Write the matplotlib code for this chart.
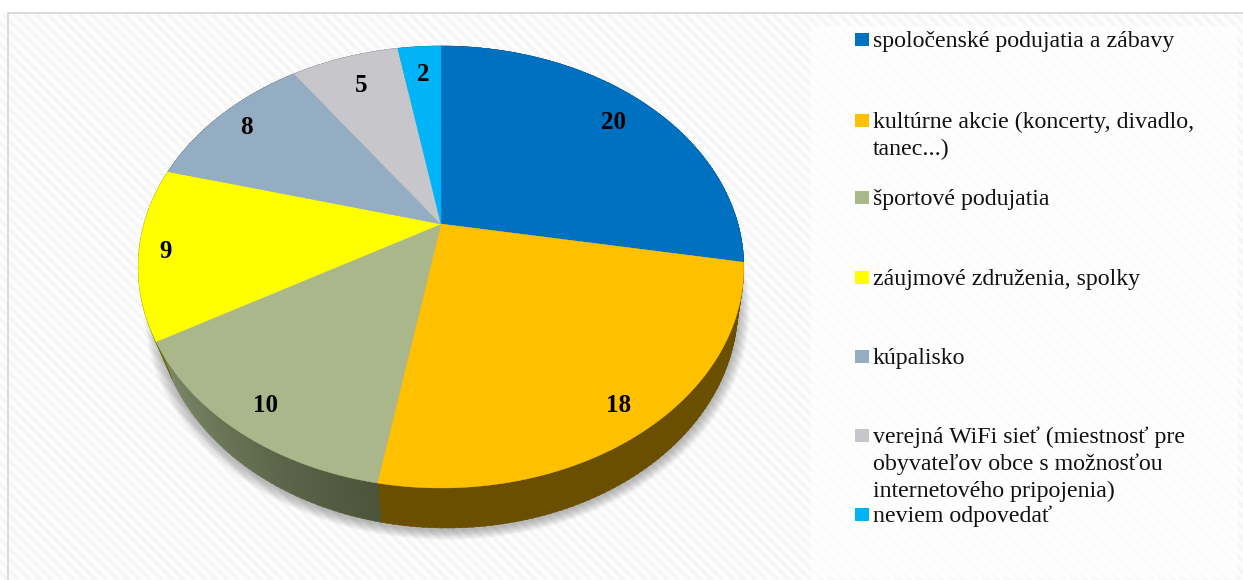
import numpy as np
import matplotlib
matplotlib.use("Agg")
import matplotlib.pyplot as plt
from matplotlib.collections import LineCollection
from matplotlib.patches import Rectangle

categories = ["spoločenské podujatia a zábavy",
              "kultúrne akcie (koncerty, divadlo,\ntanec...)",
              "športové podujatia",
              "záujmové združenia, spolky",
              "kúpalisko",
              "verejná WiFi sieť (miestnosť pre\nobyvateľov obce s možnosťou\ninternetového pripojenia)",
              "neviem odpovedať"]
values = [20, 18, 10, 9, 8, 5, 2]
colors = ["#0070c0", "#ffc000", "#a9b78b", "#ffff00", "#94adc3", "#c6c6cb", "#00b4f7"]
wall_near = ["#003a64", "#6b4f00", "#4b5339", "#6b6b00", "#4d5a66", "#66666a", "#005f80"]
wall_far = ["#003a64", "#6b4f00", "#7f8a6a", "#7f7f00", "#4d5a66", "#66666a", "#005f80"]
label_radius = [.83, .888, .888, .918, .881, .819, .827]
legend_y = [39, 120, 197, 277, 356, 435, 514]

W, H = 1243, 580
CX, CY = 441, 224
AY, BX, K = 212.6, 297.0, 0.1946
DEPTH, LOW_SCALE, LOW_DX, LOW_TWIST = 40, 0.96, 6, 0.7
plt.rcParams["font.family"] = ["Liberation Serif", "DejaVu Serif"]

fig = plt.figure(figsize=(W / 100, H / 100), dpi=100)
ax = fig.add_axes([0, 0, 1, 1])
ax.set_xlim(0, W)
ax.set_ylim(H, 0)
ax.axis("off")


def project(theta_deg, r=1.0, scale=1.0, dx=0.0, dy=0.0):
    t = np.radians(theta_deg)
    x, y = r * np.sin(t), r * np.cos(t)
    w = 1 + K * y
    return CX + scale * BX * x / w + dx, CY - AY * y / w + dy


def hex2rgb(c):
    return np.array(matplotlib.colors.to_rgb(c))


# backdrop: frame and diagonal stripes
ax.add_patch(Rectangle((0, 0), W, H, fc="white", ec="none", zorder=0))
ax.add_patch(Rectangle((9, 14), W, H, fc="#fdfdfd", ec="none", zorder=0.1))
segs = [[(s, 14), (s + H, 14 + H)] for s in np.arange(-H, W, 11.0)]
stripes = LineCollection(segs, colors="#f6f6f6", linewidths=2.6, zorder=0.2)
stripes.set_clip_path(Rectangle((9, 14), W, H, transform=ax.transData))
ax.add_collection(stripes)
ax.add_patch(Rectangle((811, 26), 427, 552, fc="white", ec="none", alpha=0.72, zorder=0.3))
ax.add_patch(Rectangle((7, 12), 2, H, fc="#dcdcdc", ec="none", zorder=0.4))
ax.add_patch(Rectangle((7, 12), W, 2, fc="#dcdcdc", ec="none", zorder=0.4))

# soft shadow below the pie
full = np.linspace(0, 360, 361)
for grow in np.arange(12, 0, -1.0):
    sx, sy = project(full, scale=LOW_SCALE, dx=LOW_DX, dy=DEPTH)
    cx, cy = np.mean(sx), np.mean(sy)
    f = 1 + grow / 290
    ax.fill(cx + (sx - cx) * f, cy + (sy - cy) * f + 2,
            color="black", alpha=0.024, lw=0, zorder=1)

# side wall then top faces, slice by slice from the values
edges = np.concatenate([[0], np.cumsum(values)]) / np.sum(values) * 360
for i in range(len(values)):
    a0, a1 = edges[i], edges[i + 1]
    steps = np.linspace(a0, a1, max(int(a1 - a0), 2) + 1)
    near, far = hex2rgb(wall_near[i]), hex2rgb(wall_far[i])
    for j in range(len(steps) - 1):
        s0, s1 = steps[j], steps[j + 1] + 0.3
        tx, ty = project(np.array([s0, s1]))
        bx, by = project(np.array([s1, s0]) + LOW_TWIST, scale=LOW_SCALE, dx=LOW_DX, dy=DEPTH)
        mix = (j + 0.5) / (len(steps) - 1)
        c = near + (far - near) * mix
        ax.fill(np.r_[tx, bx], np.r_[ty, by], color=c, lw=0.4, zorder=2)

for i in range(len(values)):
    a = np.linspace(edges[i], edges[i + 1], 200)
    px, py = project(a)
    ax.fill(np.r_[CX, px], np.r_[CY, py], color=colors[i], lw=0.3, zorder=3)
    mid = (edges[i] + edges[i + 1]) / 2
    lx, ly = project(mid, r=label_radius[i])
    ax.text(lx + 1, ly + 1.5, str(values[i]), ha="center", va="center", fontsize=18,
            fontweight="bold", color="black", zorder=4)

# legend
for name, col, y in zip(categories, colors, legend_y):
    ax.add_patch(Rectangle((855, y - 6.5), 14, 13.5, fc=col, ec="none", zorder=4))
    for n, line in enumerate(name.split("\n")):
        ax.text(873, y + n * 27, line, ha="left", va="center_baseline", fontsize=17.2,
                color="#111111", zorder=4)

fig.savefig("out.png", dpi=100)
